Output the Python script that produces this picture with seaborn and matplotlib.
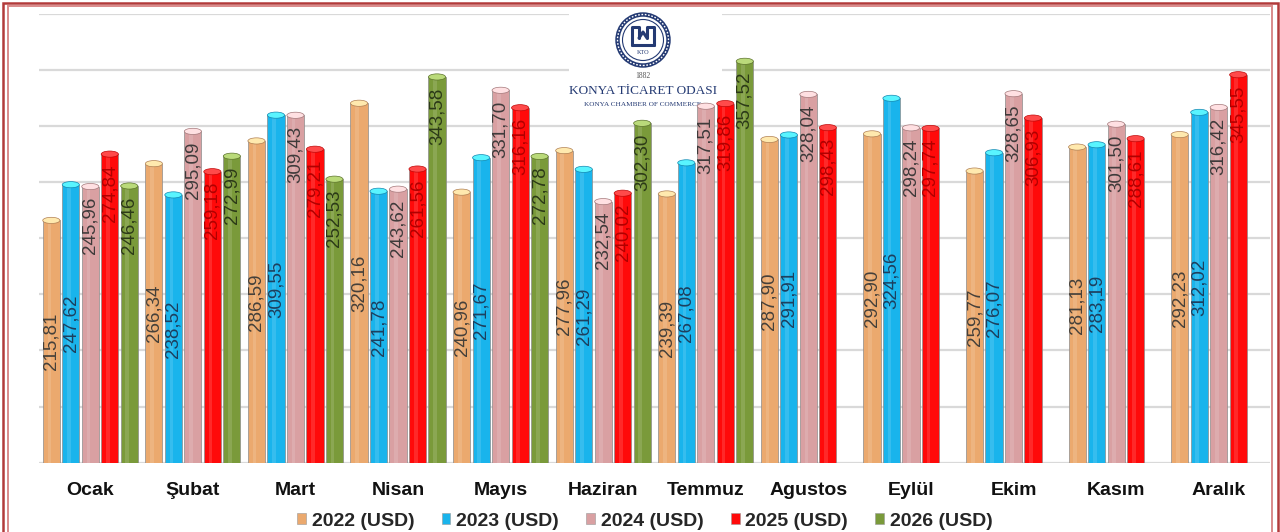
"""Konya aylık ihracat ortalama birim fiyat grafiği (USD)."""

import numpy as np
import pandas as pd
import matplotlib
matplotlib.use('Agg')
import matplotlib.pyplot as plt
import seaborn as sns
from matplotlib.patches import Rectangle, Circle, Ellipse, Patch
from matplotlib.lines import Line2D
from matplotlib import colors as mcolors

#############
# Veriler   #
#############
months = ['Ocak', 'Şubat', 'Mart', 'Nisan', 'Mayıs', 'Haziran', 'Temmuz',
          'Agustos', 'Eylül', 'Ekim', 'Kasım', 'Aralık']
years = ['2022 (USD)', '2023 (USD)', '2024 (USD)', '2025 (USD)', '2026 (USD)']

v2022 = [215.81, 266.34, 286.59, 320.16, 240.96, 277.96, 239.39, 287.90, 292.90, 259.77, 281.13, 292.23]
v2023 = [247.62, 238.52, 309.55, 241.78, 271.67, 261.29, 267.08, 291.91, 324.56, 276.07, 283.19, 312.02]
v2024 = [245.96, 295.09, 309.43, 243.62, 331.70, 232.54, 317.51, 328.04, 298.24, 328.65, 301.50, 316.42]
v2025 = [274.84, 259.18, 279.21, 261.56, 316.16, 240.02, 319.86, 298.43, 297.74, 306.93, 288.61, 345.55]
v2026 = [246.46, 272.99, 252.53, 343.58, 272.78, 302.30, 357.52, np.nan, np.nan, np.nan, np.nan, np.nan]

bar_colors = ['#EBA96E', '#19B4EC', '#D9A0A2', '#FF0A0A', '#7A9A3A']
label_colors = ['#45403a', '#1d3f5e', '#3e3a3a', '#b00000', '#2c3a18']
label_pos = ['center', 'center', 'end', 'end', 'end']

rows = []
for yr, vals in zip(years, [v2022, v2023, v2024, v2025, v2026]):
    for m, v in zip(months, vals):
        rows.append({'Ay': m, 'Yil': yr, 'USD': v})
df = pd.DataFrame(rows).dropna()

#############
# Çizim     #
#############
sns.set_theme(style='white')
plt.rcParams['font.family'] = ['Liberation Sans', 'DejaVu Sans']

W, H = 1280, 532
fig = plt.figure(figsize=(12.8, 5.32), dpi=100)
fig.patch.set_facecolor('white')


def fx(x):
    return x / W


def fy(y):
    return 1 - y / H


ax = fig.add_axes([fx(39), fy(462.7), fx(1270) - fx(39), fy(13.6) - fy(462.7)])

sns.barplot(data=df, x='Ay', y='USD', hue='Yil', order=months, hue_order=years,
            palette=dict(zip(years, bar_colors)), saturation=1, width=0.95,
            gap=0.12, legend=False, errorbar=None, edgecolor='#8c8c8c',
            linewidth=0.5, zorder=3, ax=ax)

ax.set_ylim(0, 400)
ax.set_xlim(-0.5, 11.5)
ax.set_yticks(range(0, 401, 50))
ax.set_yticklabels([])
ax.yaxis.grid(True, color='#D9D9D9', lw=1.6)
ax.xaxis.grid(False)
ax.set_axisbelow(True)
for s in ax.spines.values():
    s.set_visible(False)
ax.tick_params(left=False, bottom=False)
ax.tick_params(axis='x', pad=8)
ax.set_xticks(range(len(months)))
ax.set_xticklabels(months, fontsize=14, fontweight='bold', color='#111111')
ax.set_xlabel('')
ax.set_ylabel('')

# Silindir görünümü + değer etiketleri
for i, cont in enumerate(ax.containers):
    base = mcolors.to_rgb(bar_colors[i])
    light = tuple(min(1, c + 0.25) for c in base)
    dark = tuple(c * 0.75 for c in base)
    for bar in cont:
        h = bar.get_height()
        if np.isnan(h) or h == 0:
            continue
        x0, w = bar.get_x(), bar.get_width()
        xc = x0 + w / 2
        ax.add_patch(Rectangle((x0 + w * 0.28, 0), w * 0.22, h, fc='white',
                               alpha=0.13, lw=0, zorder=3.2))
        ax.add_patch(Ellipse((xc, h), w, 5.5, fc=light, ec=dark, lw=0.5,
                             zorder=3.5))
        txt = f'{h:.2f}'.replace('.', ',')
        if label_pos[i] == 'center':
            ax.text(xc, h / 2, txt, rotation=90, ha='center', va='center',
                    fontsize=13.5, color=label_colors[i], zorder=4)
        else:
            ax.annotate(txt, (xc, h), xytext=(0, -7.5),
                        textcoords='offset points', rotation=90,
                        ha='center', va='top', fontsize=13.5,
                        color=label_colors[i], zorder=4)

# Logo (KTO)
navy = '#243a73'
ax.add_patch(Rectangle((fx(569), fy(118)), fx(722) - fx(569), fy(4) - fy(118),
                       transform=fig.transFigure, fc='white', ec='none',
                       zorder=1, clip_on=False))
cx, cy = 6.43, (H - 40) / 100
ax.add_patch(Circle((cx, cy), 0.255, transform=fig.dpi_scale_trans, fill=False,
                    ec=navy, lw=3.2, zorder=1.2, clip_on=False))
ax.add_patch(Circle((cx, cy), 0.255, transform=fig.dpi_scale_trans, fill=False,
                    ec='white', lw=1.0, ls=(0, (1.2, 1.2)), zorder=1.3,
                    clip_on=False))
ax.add_patch(Circle((cx, cy), 0.205, transform=fig.dpi_scale_trans, fill=False,
                    ec=navy, lw=0.8, zorder=1.2, clip_on=False))
glyph = [
    ([cx - 0.11, cx - 0.11, cx - 0.04, cx - 0.04], [cy - 0.05, cy + 0.13, cy + 0.13, cy + 0.02]),
    ([cx + 0.11, cx + 0.11, cx + 0.04, cx + 0.04], [cy - 0.05, cy + 0.13, cy + 0.13, cy + 0.02]),
    ([cx - 0.04, cx, cx + 0.04], [cy + 0.02, cy + 0.08, cy + 0.02]),
    ([cx - 0.11, cx + 0.11], [cy - 0.05, cy - 0.05]),
]
for gx, gy in glyph:
    ax.add_line(Line2D(gx, gy, transform=fig.dpi_scale_trans, color=navy,
                       lw=2.2, zorder=1.4, clip_on=False))
ax.text(cx, cy - 0.12, 'KTO', transform=fig.dpi_scale_trans, ha='center',
        va='center', fontsize=4.5, color=navy, family='Liberation Serif',
        zorder=1.4, clip_on=False)
ax.text(fx(643), fy(76), '1882', transform=fig.transFigure, ha='center',
        va='center', fontsize=5.5, color='#555555', family='Liberation Serif',
        zorder=1.4, clip_on=False)
ax.text(fx(643), fy(91), 'KONYA TİCARET ODASI', transform=fig.transFigure,
        ha='center', va='center', fontsize=9.5, color=navy,
        family='Liberation Serif', zorder=1.4, clip_on=False)
ax.text(fx(643), fy(104), 'KONYA CHAMBER OF COMMERCE', transform=fig.transFigure,
        ha='center', va='center', fontsize=5.2, color=navy,
        family='Liberation Serif', zorder=1.4, clip_on=False)

# Lejant
handles = [Patch(facecolor=c, edgecolor='#999999', lw=0.4) for c in bar_colors]
fig.legend(handles, years, loc='center', bbox_to_anchor=(fx(645), fy(521)),
           ncol=5, frameon=False, prop={'weight': 'bold', 'size': 14},
           handlelength=0.45, handleheight=0.45, handletextpad=0.3,
           columnspacing=1.4, borderpad=0)

# Çerçeve
fig.patches.append(Rectangle((fx(2.5), fy(545)), fx(1277.5) - fx(2.5), fy(2.5) - fy(545),
                             transform=fig.transFigure, fill=False, ec='#B23A3A',
                             lw=1.8, zorder=5))
fig.patches.append(Rectangle((fx(7.5), fy(545)), fx(1272) - fx(7.5), fy(6) - fy(545),
                             transform=fig.transFigure, fill=False, ec='#D98A8A',
                             lw=1.4, zorder=5))

fig.savefig('out.png', dpi=100, facecolor='white')
